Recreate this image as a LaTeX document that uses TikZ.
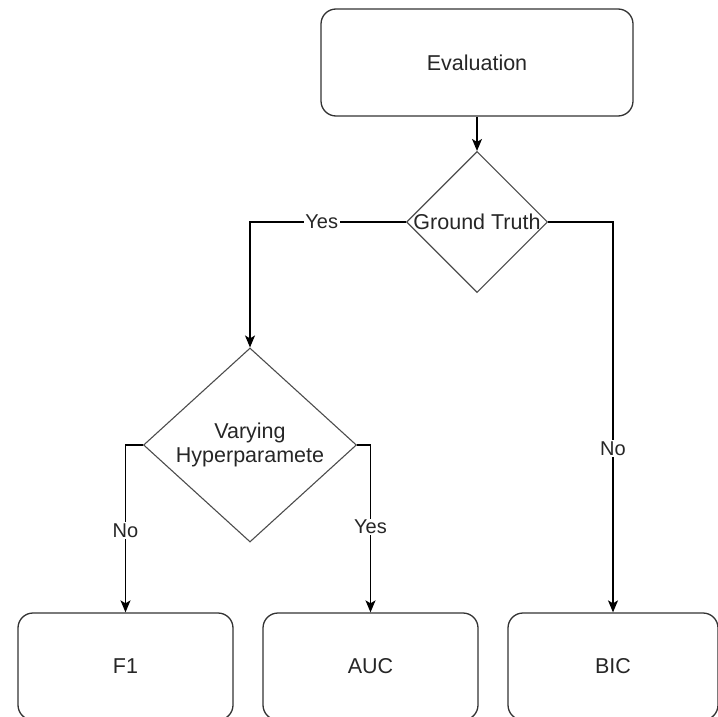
\documentclass[tikz,border=0pt]{standalone}
\usepackage{fontspec}
\setmainfont{Liberation Sans}
\usetikzlibrary{shapes.geometric,arrows.meta}

\begin{document}
\begin{tikzpicture}[x=1bp,y=-1bp,
  every node/.style={text=black!85, font=\fontsize{21.5bp}{24bp}\selectfont},
  box/.style={draw=black!80, rounded corners=15bp, minimum height=107bp,
    inner sep=0pt, line width=1.3bp},
  decision/.style={draw=black!70, diamond, inner sep=0pt, line width=1.1bp},
  flow/.style={draw=black, line width=1.3bp,
    -{Stealth[length=12bp,width=10bp,inset=3bp]}},
  lbl/.style={fill=white, inner sep=1.5bp, font=\fontsize{20bp}{22bp}\selectfont}]

\useasboundingbox (0,0) rectangle (718,717);

% process boxes
\node[box, minimum width=312bp] (eval) at (477,62.5) {Evaluation};
\node[box, minimum width=215bp] (f1)  at (125.5,666.5) {F1};
\node[box, minimum width=215bp] (auc) at (370.5,666.5) {AUC};
\node[box, minimum width=210bp] (bic) at (613,666.5) {BIC};

% decisions
\node[decision, minimum width=141bp, minimum height=141bp,
  label={center:Ground Truth}] (gt) at (477,222) {};
\node[decision, minimum width=213bp, minimum height=194bp,
  label={[align=center]center:Varying\\Hyperparamete}] (vh) at (250,445) {};

% connectors
\draw[flow] (eval) -- (gt);
\draw[flow] (gt.west) -| node[lbl, pos=0.27] {Yes} (vh.north);
\draw[flow] (gt.east) -| node[lbl, pos=0.79] {No} (bic.north);
\draw[flow] (vh.west) -| node[lbl, pos=0.755] {No} (f1.north);
\draw[flow] (vh.east) -| node[lbl, pos=0.745] {Yes} (auc.north);
\end{tikzpicture}
\end{document}
